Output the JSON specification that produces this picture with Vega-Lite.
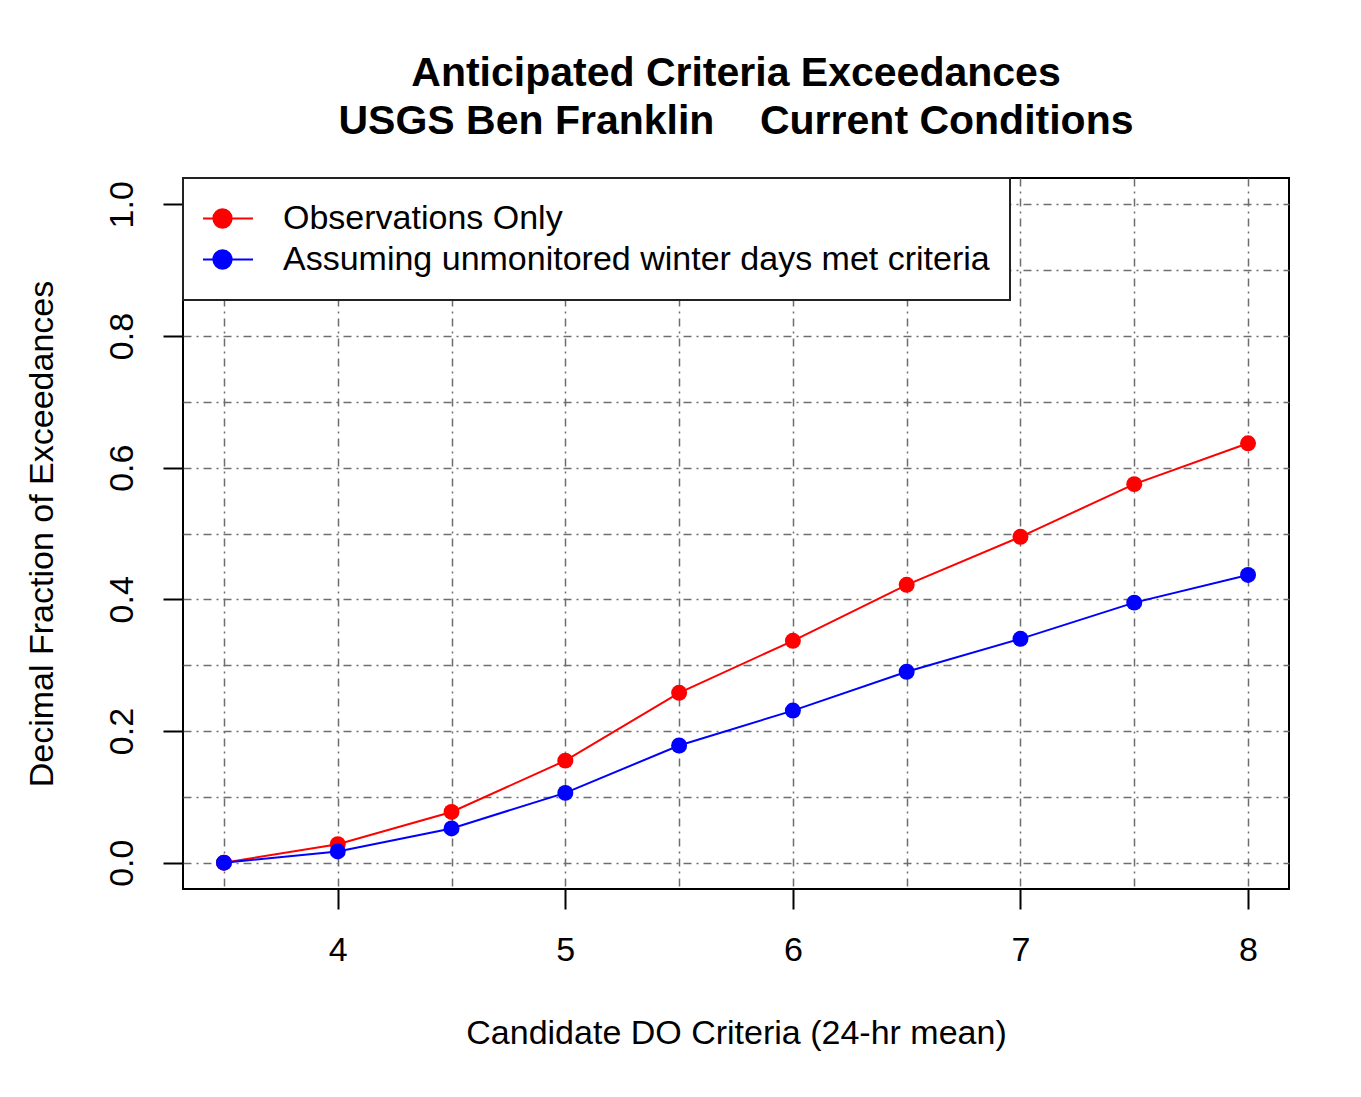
{
  "$schema": "https://vega.github.io/schema/vega-lite/v6.json",
  "width": 1106,
  "height": 711,
  "autosize": {"type": "none"},
  "padding": {"left": 183, "top": 178, "right": 72, "bottom": 208},
  "background": "white",
  "config": {
    "font": "Liberation Sans",
    "view": {"stroke": "black", "strokeWidth": 2},
    "title": {"font": "Liberation Sans"},
    "axis": {"labelFont": "Liberation Sans", "titleFont": "Liberation Sans"},
    "legend": {"labelFont": "Liberation Sans"}
  },
  "title": {
    "text": ["Anticipated Criteria Exceedances", "USGS Ben Franklin\u00a0\u00a0\u00a0\u00a0Current Conditions"],
    "fontSize": 41,
    "fontWeight": "bold",
    "color": "black",
    "anchor": "middle",
    "lineHeight": 48,
    "offset": 34
  },
  "data": {
    "values": [
      {"criteria": 3.5, "series": "Observations Only", "fraction": 0.0},
      {"criteria": 4.0, "series": "Observations Only", "fraction": 0.028},
      {"criteria": 4.5, "series": "Observations Only", "fraction": 0.077},
      {"criteria": 5.0, "series": "Observations Only", "fraction": 0.155},
      {"criteria": 5.5, "series": "Observations Only", "fraction": 0.258},
      {"criteria": 6.0, "series": "Observations Only", "fraction": 0.337},
      {"criteria": 6.5, "series": "Observations Only", "fraction": 0.422},
      {"criteria": 7.0, "series": "Observations Only", "fraction": 0.495},
      {"criteria": 7.5, "series": "Observations Only", "fraction": 0.575},
      {"criteria": 8.0, "series": "Observations Only", "fraction": 0.637},
      {"criteria": 3.5, "series": "Assuming unmonitored winter days met criteria", "fraction": 0.0},
      {"criteria": 4.0, "series": "Assuming unmonitored winter days met criteria", "fraction": 0.017},
      {"criteria": 4.5, "series": "Assuming unmonitored winter days met criteria", "fraction": 0.052},
      {"criteria": 5.0, "series": "Assuming unmonitored winter days met criteria", "fraction": 0.106},
      {"criteria": 5.5, "series": "Assuming unmonitored winter days met criteria", "fraction": 0.178},
      {"criteria": 6.0, "series": "Assuming unmonitored winter days met criteria", "fraction": 0.231},
      {"criteria": 6.5, "series": "Assuming unmonitored winter days met criteria", "fraction": 0.290},
      {"criteria": 7.0, "series": "Assuming unmonitored winter days met criteria", "fraction": 0.340},
      {"criteria": 7.5, "series": "Assuming unmonitored winter days met criteria", "fraction": 0.395},
      {"criteria": 8.0, "series": "Assuming unmonitored winter days met criteria", "fraction": 0.437}
    ]
  },
  "encoding": {
    "x": {
      "field": "criteria",
      "type": "quantitative",
      "scale": {"domain": [3.32, 8.18], "nice": false, "zero": false},
      "axis": {
        "values": [3.5, 4, 4.5, 5, 5.5, 6, 6.5, 7, 7.5, 8],
        "domain": false,
        "grid": true,
        "gridColor": "#6e6e6e",
        "gridDash": [8, 5, 2, 5],
        "gridWidth": 1.5,
        "ticks": true,
        "tickSize": 20,
        "tickWidth": 2,
        "tickColor": {"condition": {"test": "datum.value % 1 !== 0", "value": "transparent"}, "value": "black"},
        "labelExpr": "datum.value % 1 === 0 ? format(datum.value, 'd') : ''",
        "labelFontSize": 34,
        "labelColor": "black",
        "labelPadding": 24,
        "labelFlush": false,
        "labelOverlap": false,
        "title": "Candidate DO Criteria (24-hr mean)",
        "titleFontSize": 34,
        "titleFontWeight": "normal",
        "titleColor": "black",
        "titlePadding": 49
      }
    },
    "y": {
      "field": "fraction",
      "type": "quantitative",
      "scale": {"domain": [-0.04, 1.04], "nice": false, "zero": false},
      "axis": {
        "values": [0, 0.1, 0.2, 0.3, 0.4, 0.5, 0.6, 0.7, 0.8, 0.9, 1.0],
        "domain": false,
        "grid": true,
        "gridColor": "#6e6e6e",
        "gridDash": [8, 5, 2, 5],
        "gridWidth": 1.5,
        "ticks": true,
        "tickSize": 20,
        "tickWidth": 2,
        "tickColor": {"condition": {"test": "round(datum.value * 10) % 2 !== 0", "value": "transparent"}, "value": "black"},
        "labelExpr": "round(datum.value * 10) % 2 === 0 ? format(datum.value, '.1f') : ''",
        "labelFontSize": 34,
        "labelColor": "black",
        "labelAngle": 270,
        "labelAlign": "center",
        "labelBaseline": "bottom",
        "labelPadding": 24,
        "labelFlush": false,
        "labelOverlap": false,
        "title": "Decimal Fraction of Exceedances",
        "titleFontSize": 34,
        "titleFontWeight": "normal",
        "titleColor": "black",
        "titlePadding": 46
      }
    },
    "color": {
      "field": "series",
      "type": "nominal",
      "scale": {
        "domain": ["Observations Only", "Assuming unmonitored winter days met criteria"],
        "range": ["#ff0000", "#0000ff"]
      },
      "legend": {
        "title": null,
        "orient": "none",
        "legendX": 0,
        "legendY": 0,
        "direction": "vertical",
        "fillColor": "white",
        "strokeColor": "#222222",
        "cornerRadius": 0,
        "padding": 20,
        "labelFontSize": 34,
        "labelColor": "black",
        "labelLimit": 0,
        "labelOffset": 29,
        "rowPadding": 0,
        "clipHeight": 41,
        "symbolOffset": -12,
        "symbolType": "M-1,0H1M0.3,0A0.3,0.3,0,1,1,-0.3,0A0.3,0.3,0,1,1,0.3,0",
        "symbolSize": 3721,
        "symbolStrokeWidth": 2,
        "symbolOpacity": 1,
        "encode": {
          "legend": {"update": {"strokeWidth": {"value": 2}}}
        }
      }
    }
  },
  "layer": [
    {"mark": {"type": "line", "strokeWidth": 2}},
    {"mark": {"type": "point", "filled": true, "size": 255, "opacity": 1}}
  ]
}
